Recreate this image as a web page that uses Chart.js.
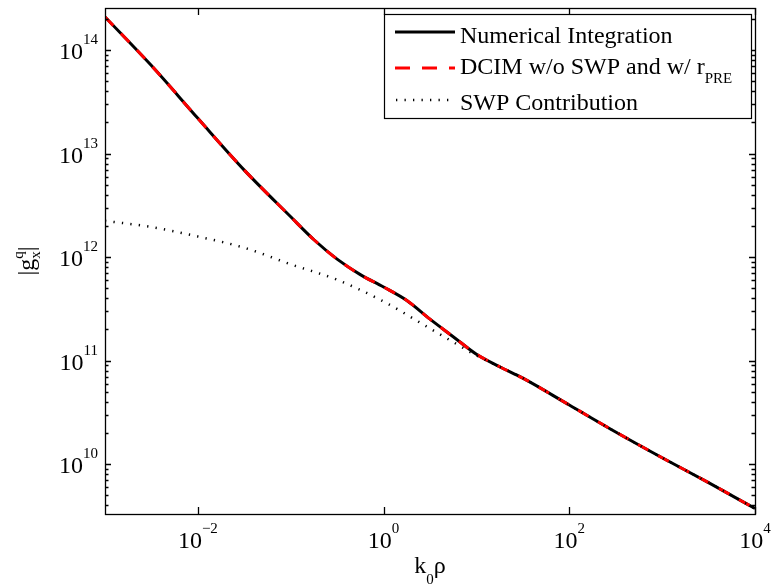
<!DOCTYPE html>
<html>
<head>
<meta charset="utf-8">
<script src="https://cdn.jsdelivr.net/npm/chart.js@4.4.0/dist/chart.umd.min.js"></script>
<style>
  html, body { margin: 0; padding: 0; background: #fff; }
  #wrap { width: 771px; height: 586px; }
</style>
</head>
<body>
<div id="wrap"><canvas id="myChart" width="771" height="586"></canvas></div>
<script>
// sample points along k0*rho
var kRho = [1e-3, 3.16e-3, 1e-2, 3.16e-2, 0.1, 0.178, 0.316, 0.562, 1, 1.78,
            3.16, 5.62, 10, 17.8, 31.6, 100, 316, 1000, 3160, 1e4];
var numerical = [2.09e14, 7.08e13, 2.19e13, 6.92e12, 2.45e12, 1.47e12, 9.55e11, 6.76e11, 5.13e11, 3.80e11,
                 2.51e11, 1.70e11, 1.15e11, 8.71e10, 6.76e10, 3.72e10, 2.04e10, 1.15e10, 6.61e9, 3.72e9];
var dcim = [2.09e14, 7.08e13, 2.19e13, 6.92e12, 2.45e12, 1.47e12, 9.55e11, 6.76e11, 5.13e11, 3.80e11,
            2.51e11, 1.70e11, 1.15e11, 8.71e10, 6.76e10, 3.72e10, 2.04e10, 1.15e10, 6.61e9, 3.72e9];

var swpKRho = [1e-3, 3.16e-3, 1e-2, 3.16e-2, 0.1, 0.316, 1, 3.16, 5.62, 10,
               17.8, 31.6, 100, 316, 1000, 3160, 1e4];
var swp = [2.24e12, 1.95e12, 1.58e12, 1.23e12, 8.51e11, 6.03e11, 3.72e11, 2.04e11, 1.51e11, 1.12e11,
           8.71e10, 6.76e10, 3.72e10, 2.04e10, 1.15e10, 6.61e9, 3.72e9];

var xTicks = [1e-2, 1, 1e2, 1e4];
var xTickPowers = ['\u22122', '0', '2', '4'];
var yTicks = [1e10, 1e11, 1e12, 1e13, 1e14];
var yTickPowers = ['10', '11', '12', '13', '14'];

var legendItems = ['Numerical Integration', 'DCIM w/o SWP and w/ r', 'SWP Contribution'];

var SERIF = '"Liberation Serif", "Times New Roman", serif';

function pairs(xs, ys) {
    return xs.map(function(x, i) { return {x: x, y: ys[i]}; });
}

// box, inward ticks, power-of-ten labels, axis titles and legend
var decorations = {
    id: 'decorations',
    afterDraw: function(chart) {
        var c = chart.ctx, a = chart.chartArea;
        var sx = chart.scales.x, sy = chart.scales.y;
        c.save();
        c.strokeStyle = '#000';
        c.fillStyle = '#000';
        c.lineWidth = 1.3;
        c.strokeRect(a.left + 0.5, a.top + 0.5, a.right - a.left, a.bottom - a.top);

        c.beginPath();
        xTicks.forEach(function(v) {
            var px = Math.round(sx.getPixelForValue(v)) + 0.5;
            c.moveTo(px, a.bottom); c.lineTo(px, a.bottom - 7);
            c.moveTo(px, a.top); c.lineTo(px, a.top + 7);
        });
        for (var e = 9; e <= 14; e++) {
            for (var m = 1; m <= 9; m++) {
                var v = m * Math.pow(10, e);
                if (v < sy.min || v > sy.max) continue;
                var py = Math.round(sy.getPixelForValue(v)) + 0.5;
                var len = m === 1 ? 6 : 3.5;
                c.moveTo(a.left, py); c.lineTo(a.left + len, py);
                c.moveTo(a.right, py); c.lineTo(a.right - len, py);
            }
        }
        c.stroke();

        var big = '24px ' + SERIF, small = '15px ' + SERIF;
        c.textBaseline = 'alphabetic';
        c.textAlign = 'left';
        xTicks.forEach(function(v, i) {
            var px = sx.getPixelForValue(v);
            c.font = big; var w1 = c.measureText('10').width;
            c.font = small; var w2 = c.measureText(xTickPowers[i]).width;
            var x0 = px - (w1 + w2) / 2;
            c.font = big; c.fillText('10', x0, 548);
            c.font = small; c.fillText(xTickPowers[i], x0 + w1, 533);
        });
        yTicks.forEach(function(v, i) {
            var py = sy.getPixelForValue(v);
            c.font = big; var w1 = c.measureText('10').width;
            c.font = small; var w2 = c.measureText(yTickPowers[i]).width;
            var x0 = 98 - w1 - w2;
            c.font = big; c.fillText('10', x0, py + 9);
            c.font = small; c.fillText(yTickPowers[i], x0 + w1, py - 6);
        });

        // x title: k0 rho
        c.font = big; var wk = c.measureText('k').width, wr = c.measureText('\u03c1').width;
        c.font = small; var w0 = c.measureText('0').width;
        var xs = (a.left + a.right) / 2 - (wk + w0 + wr) / 2;
        c.font = big; c.fillText('k', xs, 573);
        c.font = small; c.fillText('0', xs + wk, 584);
        c.font = big; c.fillText('\u03c1', xs + wk + w0, 573);

        // y title: |g_x^q|
        c.save();
        c.translate(34, (a.top + a.bottom) / 2);
        c.rotate(-Math.PI / 2);
        c.font = big;
        var wa = c.measureText('|g').width, wb = c.measureText('|').width;
        c.font = small;
        var ws = Math.max(c.measureText('x').width, c.measureText('q').width);
        var ys = -(wa + ws + wb) / 2;
        c.font = big; c.fillText('|g', ys, 0);
        c.font = small;
        c.fillText('x', ys + wa, 6);
        c.fillText('q', ys + wa, -11);
        c.font = big; c.fillText('|', ys + wa + ws, 0);
        c.restore();

        // legend
        c.fillStyle = '#fff';
        c.fillRect(384, 14, 367, 104);
        c.lineWidth = 1.2;
        c.strokeStyle = '#000';
        c.strokeRect(384.5, 14.5, 367, 104);

        c.lineWidth = 3;
        c.beginPath(); c.moveTo(395, 32); c.lineTo(455, 32); c.stroke();
        c.strokeStyle = '#ff0000';
        c.setLineDash([15, 12]);
        c.beginPath(); c.moveTo(395, 68); c.lineTo(455, 68); c.stroke();
        c.strokeStyle = '#000';
        c.lineWidth = 2.5;
        c.setLineDash([1.3, 7.2]);
        c.beginPath(); c.moveTo(396, 100); c.lineTo(455, 100); c.stroke();
        c.setLineDash([]);

        c.fillStyle = '#000';
        c.font = big;
        c.fillText(legendItems[0], 460, 43);
        c.fillText(legendItems[1], 460, 74);
        var wl = c.measureText(legendItems[1]).width;
        c.font = small; c.fillText('PRE', 460 + wl, 83);
        c.font = big;
        c.fillText(legendItems[2], 460, 110);
        c.restore();
    }
};

window.addEventListener('load', function() {
    var ctx = document.getElementById('myChart');
    var myChart = new Chart(ctx, {
        type: 'line',
        data: {
            datasets: [{
                label: 'Numerical Integration',
                data: pairs(kRho, numerical),
                borderColor: '#000',
                borderWidth: 3,
                order: 3
            }, {
                label: 'DCIM w/o SWP and w/ rPRE',
                data: pairs(kRho, dcim),
                borderColor: '#ff0000',
                borderWidth: 3,
                borderDash: [12, 11],
                order: 2
            }, {
                label: 'SWP Contribution',
                data: pairs(swpKRho, swp),
                borderColor: '#000',
                borderWidth: 2.5,
                borderDash: [1.3, 7.2],
                order: 1
            }]
        },
        options: {
            responsive: false,
            animation: false,
            layout: { padding: { left: 105, right: 16, top: 8, bottom: 72 } },
            elements: {
                point: { radius: 0 },
                line: { cubicInterpolationMode: 'monotone', fill: false }
            },
            plugins: { legend: { display: false }, tooltip: { enabled: false } },
            scales: {
                x: { type: 'logarithmic', min: 1e-3, max: 1e4, display: false },
                y: { type: 'logarithmic', min: 3.29e9, max: 2.55e14, display: false }
            }
        },
        plugins: [decorations]
    });
});
</script>
</body>
</html>
